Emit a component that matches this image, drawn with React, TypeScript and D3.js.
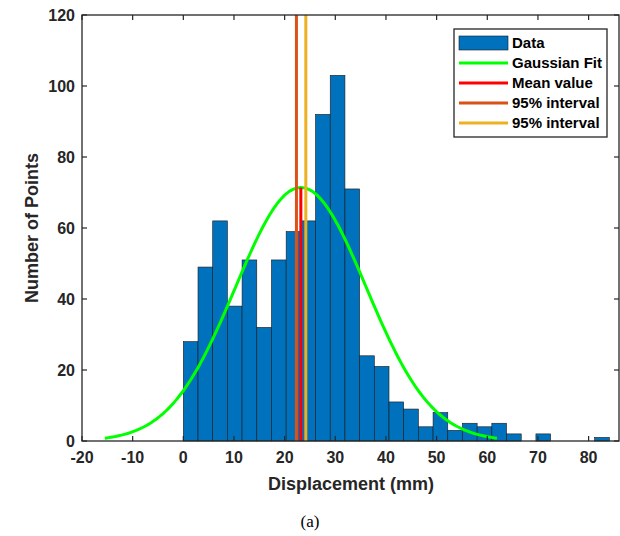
import React from "react";
import * as d3 from "d3";

// Histogram data (bin width 2.9 mm, starting at 0)
const binStart = 0;
const binWidth = 2.9;
const counts = [28, 49, 62, 38, 51, 32, 51, 59, 62, 92, 103, 71, 24, 21, 11, 9, 4, 8, 3, 5, 4, 5, 2, 0, 2, 0, 0, 0, 1];

// Gaussian fit parameters
const fitMean = 23.2;
const fitSigma = 12.9;
const fitAmplitude = 71.4;

// 95% interval bounds
const intervalLow = 22.33;
const intervalHigh = 24.18;

const xTicks = [-20, -10, 0, 10, 20, 30, 40, 50, 60, 70, 80];
const yTicks = [0, 20, 40, 60, 80, 100, 120];
const xDomain = [-20, 86];
const yDomain = [0, 120];

const legendItems = [
  { label: "Data", color: "#0072BD", type: "rect" },
  { label: "Gaussian Fit", color: "#00FF00", type: "line" },
  { label: "Mean value", color: "#FF0000", type: "line" },
  { label: "95% interval", color: "#D95319", type: "line" },
  { label: "95% interval", color: "#EDB120", type: "line" },
];

const W = 620;
const H = 536;
const left = 82;
const right = 619;
const top = 15;
const bottom = 441;
const axisColor = "#262626";
const font = "'Liberation Sans', Arial, Helvetica, sans-serif";

export default function App() {
  const x = d3.scaleLinear().domain(xDomain).range([left, right]);
  const y = d3.scaleLinear().domain(yDomain).range([bottom, top]);

  const n = 200;
  const pts: [number, number][] = d3.range(n + 1).map((i) => {
    const xv = fitMean - 3 * fitSigma + (6 * fitSigma * i) / n;
    const yv = fitAmplitude * Math.exp(-((xv - fitMean) ** 2) / (2 * fitSigma * fitSigma));
    return [xv, yv];
  });
  const line = d3
    .line<[number, number]>()
    .x((d) => x(d[0]))
    .y((d) => y(d[1]));

  const tickLen = 5;
  const legX = 454;
  const legY = 29;
  const legW = 153;
  const legH = 108;

  return (
    <svg
      width={W}
      height={H}
      style={{ position: "absolute", left: 0, top: 0, background: "#fff" }}
      fontFamily={font}
    >
      <rect x={0} y={0} width={W} height={H} fill="#fff" />
      {/* bars */}
      {counts.map((c, i) =>
        c > 0 ? (
          <rect
            key={i}
            x={x(binStart + i * binWidth)}
            y={y(c)}
            width={x(binStart + (i + 1) * binWidth) - x(binStart + i * binWidth)}
            height={y(0) - y(c)}
            fill="#0072BD"
            stroke="#1a1a1a"
            strokeWidth={0.6}
          />
        ) : null
      )}
      {/* gaussian fit */}
      <path d={line(pts) || ""} fill="none" stroke="#00FF00" strokeWidth={3} />
      {/* mean */}
      <line x1={x(fitMean)} x2={x(fitMean)} y1={y(0)} y2={y(fitAmplitude)} stroke="#FF0000" strokeWidth={3} />
      <line x1={x(intervalLow)} x2={x(intervalLow)} y1={y(0)} y2={y(120)} stroke="#D95319" strokeWidth={3} />
      <line x1={x(intervalHigh)} x2={x(intervalHigh)} y1={y(0)} y2={y(120)} stroke="#EDB120" strokeWidth={3} />

      {/* axes box */}
      <rect x={left} y={top} width={right - left} height={bottom - top} fill="none" stroke={axisColor} strokeWidth={1.3} />
      {xTicks.map((t) => (
        <g key={"x" + t}>
          <line x1={x(t)} x2={x(t)} y1={bottom} y2={bottom - tickLen} stroke={axisColor} strokeWidth={1.2} />
          <line x1={x(t)} x2={x(t)} y1={top} y2={top + tickLen} stroke={axisColor} strokeWidth={1.2} />
          <text x={x(t)} y={463} textAnchor="middle" fontSize={16} fontWeight="bold" fill={axisColor}>
            {t}
          </text>
        </g>
      ))}
      {yTicks.map((t) => (
        <g key={"y" + t}>
          <line x1={left} x2={left + tickLen} y1={y(t)} y2={y(t)} stroke={axisColor} strokeWidth={1.2} />
          <line x1={right} x2={right - tickLen} y1={y(t)} y2={y(t)} stroke={axisColor} strokeWidth={1.2} />
          <text x={75} y={y(t) + 6} textAnchor="end" fontSize={16} fontWeight="bold" fill={axisColor}>
            {t}
          </text>
        </g>
      ))}
      <text x={351} y={490} textAnchor="middle" fontSize={18} fontWeight="bold" fill={axisColor}>
        Displacement (mm)
      </text>
      <text
        transform={`translate(38, ${(top + bottom) / 2}) rotate(-90)`}
        textAnchor="middle"
        fontSize={18}
        fontWeight="bold"
        fill={axisColor}
      >
        Number of Points
      </text>

      {/* legend */}
      <rect x={legX} y={legY} width={legW} height={legH} fill="#fff" stroke={axisColor} strokeWidth={1.3} />
      {legendItems.map((it, i) => {
        const cy = legY + 14 + i * 20;
        return (
          <g key={i}>
            {it.type === "rect" ? (
              <rect x={459} y={cy - 7} width={49} height={14} fill={it.color} stroke="#1a1a1a" strokeWidth={0.6} />
            ) : (
              <line x1={459} x2={508} y1={cy} y2={cy} stroke={it.color} strokeWidth={3} />
            )}
            <text x={512} y={cy + 5} fontSize={15} fontWeight="bold" fill="#000">
              {it.label}
            </text>
          </g>
        );
      })}

      <text x={310} y={527} textAnchor="middle" fontSize={17} fontFamily="'Liberation Serif', 'Times New Roman', serif" fill="#000">
        (a)
      </text>
    </svg>
  );
}
